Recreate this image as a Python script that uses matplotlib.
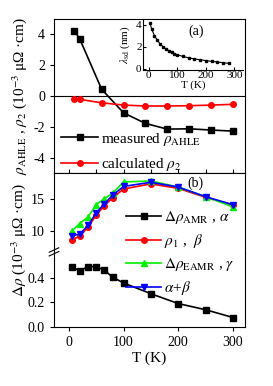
import numpy as np
import matplotlib
matplotlib.use('Agg')
import matplotlib.pyplot as plt
from matplotlib.ticker import MultipleLocator

plt.rcParams['font.family'] = ['Liberation Serif', 'DejaVu Serif']
plt.rcParams['mathtext.fontset'] = 'stix'
plt.rcParams['axes.unicode_minus'] = False
plt.rcParams['font.size'] = 10

# panel (a): anomalous Hall
T_a = [10, 20, 60, 100, 140, 180, 220, 260, 300]
rho_ahle = [4.25, 3.71, 0.44, -1.09, -1.78, -2.15, -2.13, -2.21, -2.28]
rho_2 = [-0.17, -0.22, -0.44, -0.59, -0.65, -0.65, -0.63, -0.59, -0.54]

# inset: spin diffusion length
T_in = [5, 10, 20, 30, 40, 50, 60, 70, 80, 90, 100, 120, 140, 160, 180, 200, 220, 240, 260, 280]
lam_sd = [4.1, 3.6, 3.0, 2.6, 2.25, 2.0, 1.8, 1.65, 1.5, 1.38, 1.28, 1.12, 1.0, 0.9, 0.82, 0.75, 0.68, 0.62, 0.56, 0.5]

# panel (b): magnetoresistance
T_b = [5, 20, 35, 50, 65, 80, 100, 150, 200, 250, 300]
d_amr = [0.49, 0.455, 0.49, 0.49, 0.46, 0.405, 0.357, 0.27, 0.19, 0.14, 0.077]
rho_1 = [8.5, 9.15, 10.5, 12.4, 13.9, 15.1, 16.5, 17.3, 16.6, 15.2, 14.0]
d_eamr = [9.9, 11.1, 12.1, 14.05, 15.0, 15.8, 17.6, 17.75, 16.8, 15.3, 13.7]
a_plus_b = [9.2, 9.45, 10.8, 12.75, 14.2, 15.5, 16.9, 17.55, 16.8, 15.3, 14.05]

W, H = 273, 386
fig = plt.figure(figsize=(W/100, H/100), dpi=100)

def box(x0, y0, x1, y1):
    return [x0/W, 1-y1/H, (x1-x0)/W, (y1-y0)/H]

xlim = (-27, 322)

# ---- panel a
axa = fig.add_axes(box(54, 19, 245, 173))
axa.axhline(0, color='k', lw=0.8)
axa.plot(T_a, rho_ahle, color='k', marker='s', ms=4, lw=1.2, label=r'measured $\rho_{\mathrm{AHLE}}$')
axa.plot(T_a, rho_2, color='#ff0000', marker='o', ms=4, lw=1.2, label=r'calculated $\rho_2$')
axa.set_xlim(*xlim)
axa.set_ylim(-5, 5)
axa.set_yticks([-4, -2, 0, 2, 4])
axa.xaxis.set_major_locator(MultipleLocator(50))
axa.tick_params(axis='x', direction='in', labelbottom=False, length=3)
axa.tick_params(axis='y', direction='out', length=3)
axa.text(232, 4.2, '(a)', ha='center', va='center', fontsize=10)
axa.legend(loc='lower left', bbox_to_anchor=(-0.01, -0.06), frameon=False, handlelength=2.4,
           handletextpad=0.2, labelspacing=0.55, fontsize=11, borderaxespad=0.2)
fig.text(20/W, 1-96/H, r'$\rho_{\mathrm{AHLE}}$ , $\rho_2$ (10$^{-3}$ μΩ ·cm)', rotation=90,
         ha='center', va='center', fontsize=11)

# ---- inset
axi = fig.add_axes(box(143, 19, 243, 70))
axi.patch.set_alpha(0)
axi.plot(T_in, lam_sd, color='k', marker='s', ms=1.5, lw=0.8)
axi.set_xlim(-20, 330)
axi.set_ylim(-0.1, 4.5)
axi.set_xticks([0, 100, 200, 300])
axi.set_yticks([0, 2, 4])
axi.spines['top'].set_visible(False)
axi.spines['right'].set_visible(False)
axi.tick_params(direction='in', length=2, labelsize=8, pad=1)
axi.set_xlabel('T (K)', fontsize=8, labelpad=0)
axi.set_ylabel(r'$\lambda_{\mathrm{sd}}$ (nm)', fontsize=8, labelpad=3)

# ---- panel b, upper part
axu = fig.add_axes(box(54, 173, 245, 253))
axu.plot(T_b, rho_1, color='#ff0000', marker='o', ms=4, lw=1.2, label=r'$\rho_1$ ,  $\beta$')
axu.plot(T_b, d_eamr, color='#00ee00', marker='^', ms=4, lw=1.2, label=r'$\Delta\rho_{\mathrm{EAMR}}$ , $\gamma$')
axu.plot(T_b, a_plus_b, color='#0000ff', marker='v', ms=4, lw=1.2, label=r'$\alpha$+$\beta$')
axu.set_xlim(*xlim)
axu.set_ylim(6.5, 19)
axu.set_yticks([10, 15])
axu.spines['bottom'].set_visible(False)
axu.tick_params(axis='x', bottom=False, labelbottom=False)
axu.tick_params(axis='y', direction='out', length=3)
axu.text(232, 17.4, '(b)', ha='center', va='center', fontsize=10)

# ---- panel b, lower part
axl = fig.add_axes(box(54, 253, 245, 327))
axl.patch.set_alpha(0)
axl.plot(T_b, d_amr, color='k', marker='s', ms=4, lw=1.2, label=r'$\Delta\rho_{\mathrm{AMR}}$ , $\alpha$')
axl.set_xlim(*xlim)
axl.set_ylim(0, 0.6)
axl.set_yticks([0.0, 0.2, 0.4])
axl.set_yticklabels(['0.0', '0.2', '0.4'])
axl.set_xticks([0, 100, 200, 300])
axl.spines['top'].set_visible(False)
axl.tick_params(direction='out', length=3)
axl.set_xlabel('T (K)', fontsize=11, labelpad=2)

# axis break marks on the left spine
for yy in (0.99, 1.04):
    axl.plot([-0.025, 0.025], [yy - 0.03, yy + 0.03], transform=axl.transAxes,
             color='k', lw=0.8, clip_on=False)

handles = axl.get_legend_handles_labels()[0] + axu.get_legend_handles_labels()[0]
labels = axl.get_legend_handles_labels()[1] + axu.get_legend_handles_labels()[1]
fig.legend(handles, labels, loc='upper left', bbox_to_anchor=(120/W, 1-203/H), frameon=False,
           handlelength=2.3, handletextpad=0.15, labelspacing=0.4, fontsize=11, borderaxespad=0)
fig.text(19/W, 1-240/H, r'$\Delta\rho$ (10$^{-3}$ μΩ ·cm)', rotation=90,
         ha='center', va='center', fontsize=11)

fig.savefig('out.png', dpi=100)
